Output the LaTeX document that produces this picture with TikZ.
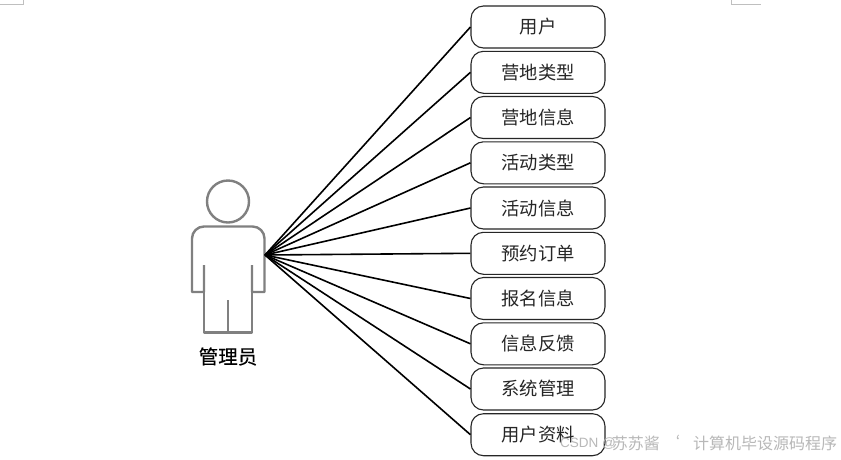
\documentclass[tikz,border=0pt]{standalone}
\usepackage{fontspec}
\setmainfont{Liberation Sans}
\newfontfamily\cjk{Noto Sans CJK SC}
\newfontfamily\cjkbold[FakeBold=0.4]{Noto Sans CJK SC}
\definecolor{actorgray}{gray}{0.5}
\definecolor{markgray}{gray}{0.75}
\definecolor{wmgray}{gray}{0.72}
\tikzset{
  usecase/.style={draw=black!85,line width=1.1pt,rounded corners=12.5pt,minimum width=134pt,minimum height=42pt,inner sep=0pt,font=\cjk\fontsize{18.3}{18.3}\selectfont,text=black!85},
  link/.style={draw=black,line width=1.6pt},
  actorline/.style={draw=actorgray,line width=2.4pt,line join=round},
  wm/.style={text=wmgray,inner sep=0pt,font=\cjk\fontsize{16}{16}\selectfont},
  cropmark/.style={draw=markgray,line width=1pt}
}
\begin{document}
\begin{tikzpicture}[x=1pt,y=-1pt]
\useasboundingbox[fill=white] (0,0) rectangle (841,459);
\draw[cropmark] (0,4) -- (23,4) -- (23,0);
\draw[cropmark] (731,0) -- (731,4) -- (761,4);
% actor
\node[circle,actorline,minimum size=42pt,inner sep=0pt] (head) at (228,201.5) {};
\draw[actorline] (204,265) -- (204,292) -- (192,292) [rounded corners=12pt] -- (192,226.5) -- (264.5,226.5) [sharp corners] -- (264.5,292) -- (252,292) -- (252,265);
\draw[actorline] (204,292) -- (204,332.5) -- (252,332.5) -- (252,292);
\draw[actorline] (228,300) -- (228,332.5);
\node[inner sep=0pt,font=\cjkbold\fontsize{19.5}{19.5}\selectfont,text=black] (actorlabel) at (228,356.5) {管理员};
\coordinate (hub) at (265,255);
% use cases
\node[usecase] (u1) at (538,27) {用户};
\node[usecase] (u2) at (538,72.3) {营地类型};
\node[usecase] (u3) at (538,117.5) {营地信息};
\node[usecase] (u4) at (538,162.8) {活动类型};
\node[usecase] (u5) at (538,208) {活动信息};
\node[usecase] (u6) at (538,253.3) {预约订单};
\node[usecase] (u7) at (538,298.5) {报名信息};
\node[usecase] (u8) at (538,343.8) {信息反馈};
\node[usecase] (u9) at (538,389) {系统管理};
\node[usecase] (u10) at (538,434.7) {用户资料};
\foreach \n in {1,...,10} \draw[link] (hub) -- (u\n.west);
% watermark
\node[wm,anchor=west,font=\fontsize{13.5}{14}\selectfont] (wm0) at (560,444) {CSDN @};
\node[wm,anchor=east] (wm1) at (660,443.5) {苏苏酱};
\node[wm,anchor=center] (wm2) at (678,441) {ʻ};
\node[wm,anchor=west] (wm3) at (693,443.5) {计算机毕设源码程序};
\end{tikzpicture}
\end{document}
